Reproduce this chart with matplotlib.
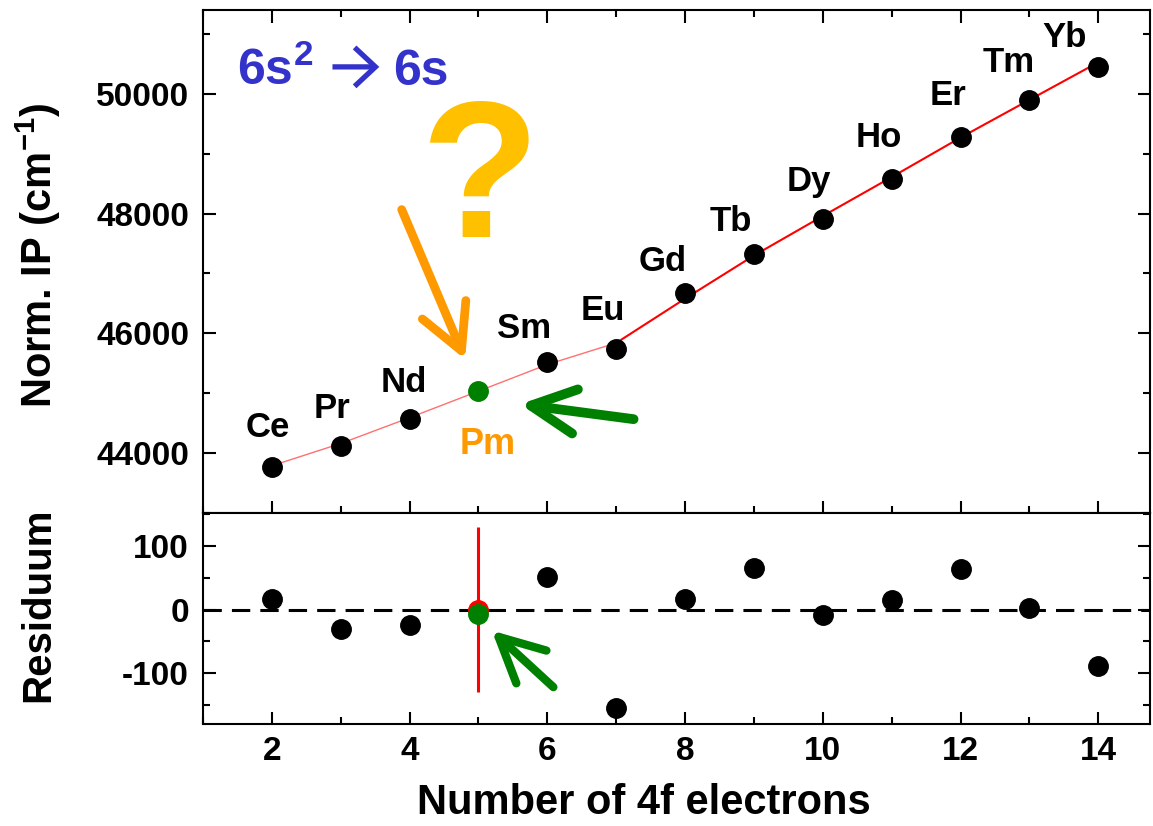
import matplotlib
matplotlib.use("Agg")
import matplotlib.pyplot as plt
from matplotlib.ticker import MultipleLocator

plt.rcParams['font.family'] = ['Liberation Sans', 'DejaVu Sans']
plt.rcParams['font.weight'] = 'bold'
plt.rcParams['axes.unicode_minus'] = False
plt.rcParams['mathtext.fontset'] = 'custom'
plt.rcParams['mathtext.rm'] = 'Liberation Sans:bold'
plt.rcParams['mathtext.it'] = 'Liberation Sans:bold'
plt.rcParams['mathtext.bf'] = 'Liberation Sans:bold'

# ---------------- data ----------------
n_4f = [2, 3, 4, 5, 6, 7, 8, 9, 10, 11, 12, 13, 14]
elements = ["Ce", "Pr", "Nd", "Pm", "Sm", "Eu", "Gd", "Tb", "Dy", "Ho", "Er", "Tm", "Yb"]
norm_ip = [43763, 44121, 44575, 45033, 45521, 45736, 46667, 47317, 47912, 48578, 49278, 49900, 50455]
residuum = [16, -31, -25, -7, 52, -155, 17, 66, -9, 15, 64, 2, -88]

# fit curves
fit1_x = [2, 3, 4, 5, 6, 7]
fit1_y = [43789, 44161, 44592, 45035, 45480, 45840]
fit2_x = [7, 8, 9, 10, 11, 12, 13, 14]
fit2_y = [45840, 46580, 47300, 47960, 48610, 49270, 49900, 50527]

pm_n = 5
pm_fit_resid = 0
pm_fit_err = 130

# label offsets (points) for element names
label_offsets = {"Ce": (-3, 29), "Pr": (-6, 27), "Nd": (-4, 26), "Sm": (-17, 24),
                 "Eu": (-10, 28), "Gd": (-16, 23), "Tb": (-17, 24), "Dy": (-10, 27),
                 "Ho": (-9, 30), "Er": (-9, 30), "Tm": (-15, 27), "Yb": (-24, 21)}

W, H = 1153, 826
fig = plt.figure(figsize=(W / 100, H / 100), dpi=100)

def rect(l, t, r, b):
    return [l / W, 1 - b / H, (r - l) / W, (b - t) / H]

ax1 = fig.add_axes(rect(203, 10, 1150, 513))
ax2 = fig.add_axes(rect(203, 513, 1150, 724))

green = "#008000"
orange = "#FF9900"
gold = "#FFC000"
blue = "#3333CC"

# ---------------- top panel ----------------
ax1.plot(fit1_x, fit1_y, color="#FF7070", lw=1.0, zorder=2)
ax1.plot(fit2_x, fit2_y, color="#FF0000", lw=1.5, zorder=2)
for x, y, el in zip(n_4f, norm_ip, elements):
    c = green if el == "Pm" else "black"
    ax1.plot(x, y, 'o', color=c, ms=14, mec=c, zorder=3)
    if el != "Pm":
        ax1.annotate(el, (x, y), xytext=label_offsets[el], textcoords='offset points',
                     ha='center', va='center', fontsize=25, fontweight='bold')

ax1.text(5.13, 43983, "Pm", color=orange, fontsize=26, fontweight='bold',
         ha='center', va='baseline')

# "6s^2 -> 6s" title
ax1.text(1.487, 50150, "6s$^{2}$", color=blue, fontsize=36,
         fontweight='bold', ha='left', va='baseline')
ax1.annotate('', xy=(3.56, 50450), xytext=(2.88, 50450),
             arrowprops=dict(arrowstyle='->,head_length=1.5,head_width=1.4',
                             lw=3.8, color=blue, mutation_scale=10,
                             shrinkA=0, shrinkB=0, capstyle='butt', joinstyle='miter'))
ax1.text(3.759, 50150, "6s", color=blue, fontsize=36,
         fontweight='bold', ha='left', va='baseline')

ax1.text(5.02, 47617, "?", color=gold, fontsize=140, fontweight='bold',
         ha='center', va='baseline')

ax1.annotate('', xy=(4.805, 45567), xytext=(3.885, 48067),
             arrowprops=dict(arrowstyle='->,head_length=1.6,head_width=0.85',
                             lw=6.3, color=orange, mutation_scale=20,
                             shrinkA=0, shrinkB=0, capstyle='round', joinstyle='round'))
ax1.annotate('', xy=(5.605, 44817), xytext=(7.252, 44567),
             arrowprops=dict(arrowstyle='->,head_length=1.6,head_width=0.8',
                             lw=7, color=green, mutation_scale=20,
                             shrinkA=0, shrinkB=0, capstyle='round', joinstyle='round'))

ax1.set_xlim(1, 14.75)
ax1.set_ylim(43000, 51400)
ax1.xaxis.set_major_locator(MultipleLocator(2))
ax1.xaxis.set_minor_locator(MultipleLocator(1))
ax1.yaxis.set_major_locator(MultipleLocator(2000))
ax1.yaxis.set_minor_locator(MultipleLocator(1000))
ax1.tick_params(axis='both', which='both', direction='in', top=True, right=True,
                labelbottom=False, width=1.5)
ax1.tick_params(which='major', length=9)
ax1.tick_params(which='minor', length=5)
ax1.tick_params(axis='y', labelsize=24, pad=10)
ax1.set_ylabel("Norm. IP (cm$^{-1}$)", fontsize=30, fontweight='bold', va='center')
ax1.yaxis.set_label_coords(-0.174, 0.513)

# ---------------- bottom panel ----------------
ax2.axhline(0, color='black', lw=2.2, dashes=(6, 3.3), zorder=1)
ax2.errorbar([pm_n], [pm_fit_resid], yerr=[pm_fit_err], fmt='o', color='red',
             ms=14, elinewidth=2.2, capsize=0, zorder=2)
for x, r, el in zip(n_4f, residuum, elements):
    c = green if el == "Pm" else "black"
    ax2.plot(x, r, 'o', color=c, ms=14, mec=c, zorder=3)

ax2.annotate('', xy=(5.193, -33), xytext=(6.087, -122),
             arrowprops=dict(arrowstyle='->,head_length=1.6,head_width=0.8',
                             lw=6, color=green, mutation_scale=20,
                             shrinkA=0, shrinkB=0, capstyle='round', joinstyle='round'))

ax2.set_xlim(1, 14.75)
ax2.set_ylim(-180, 152)
ax2.xaxis.set_major_locator(MultipleLocator(2))
ax2.xaxis.set_minor_locator(MultipleLocator(1))
ax2.yaxis.set_major_locator(MultipleLocator(100))
ax2.yaxis.set_minor_locator(MultipleLocator(50))
ax2.tick_params(axis='both', which='both', direction='in', top=False, right=True, width=1.5)
ax2.tick_params(which='major', length=9)
ax2.tick_params(which='minor', length=5)
ax2.tick_params(axis='x', labelsize=24, pad=9)
ax2.tick_params(axis='y', labelsize=24, pad=10)
ax2.set_ylabel("Residuum", fontsize=29, fontweight='bold', va='center')
ax2.yaxis.set_label_coords(-0.174, 0.564)
ax2.set_xlabel("Number of 4f electrons", fontsize=30, fontweight='bold', va='center')
ax2.xaxis.set_label_coords(0.466, -0.374)

for ax in (ax1, ax2):
    for s in ax.spines.values():
        s.set_linewidth(1.5)
    for lab in ax.get_xticklabels() + ax.get_yticklabels():
        lab.set_fontweight('bold')

fig.savefig("out.png", dpi=100)
